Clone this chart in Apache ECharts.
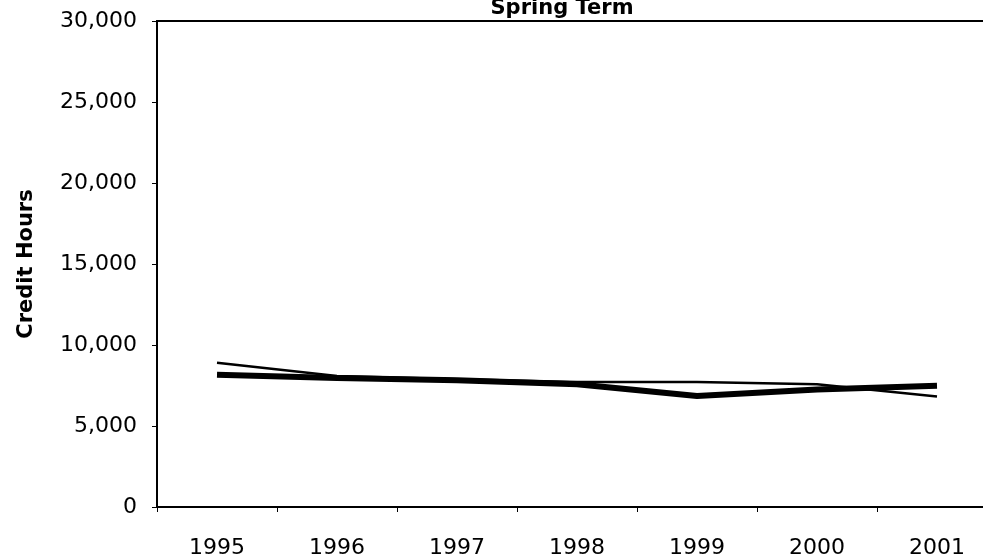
<!DOCTYPE html>
<html>
<head>
<meta charset="utf-8">
<script src="https://cdn.jsdelivr.net/npm/echarts@6/dist/echarts.min.js"></script>
<style>
  html, body { margin: 0; padding: 0; background: #fff; }
  #chart { width: 983px; height: 560px; }
</style>
</head>
<body>
<div id="chart"></div>
<script>
// values
const years = ['1995', '1996', '1997', '1998', '1999', '2000', '2001']
const creditHours = [8170, 7960, 7820, 7580, 6850, 7250, 7480]
const trendHours = [8900, 8080, 7880, 7720, 7720, 7580, 6820]
const yTicks = [0, 5000, 10000, 15000, 20000, 25000, 30000]

const font = 'DejaVu Sans'

const chart = echarts.init(document.getElementById('chart'))
chart.setOption({
  animation: false,
  backgroundColor: '#fff',
  title: {
    text: 'Spring Term',
    left: 557,
    top: -7,
    textAlign: 'center',
    textStyle: {
      fontFamily: font,
      fontWeight: 'bold',
      fontSize: 21,
      color: '#000',
    },
  },
  grid: {
    left: 157,
    top: 21,
    height: 486,
    width: 840,
    containLabel: false,
    outerBoundsMode: 'none',
    show: true,
    borderColor: '#000',
    borderWidth: 2,
  },
  xAxis: {
    type: 'category',
    data: years,
    boundaryGap: true,
    axisLine: { lineStyle: { color: '#000', width: 2 } },
    axisTick: { show: true, length: 5, lineStyle: { color: '#000' } },
    axisLabel: {
      color: '#000',
      fontFamily: font,
      fontSize: 22,
      margin: 30,
    },
  },
  yAxis: {
    type: 'value',
    min: yTicks[0],
    max: yTicks[yTicks.length - 1],
    interval: 5000,
    name: 'Credit Hours',
    nameLocation: 'middle',
    nameGap: 120,
    nameTextStyle: {
      color: '#000',
      fontFamily: font,
      fontWeight: 'bold',
      fontSize: 21,
    },
    splitLine: { show: false },
    axisLine: { show: true, lineStyle: { color: '#000', width: 2 } },
    axisTick: { show: true, length: 5, lineStyle: { color: '#000' } },
    axisLabel: {
      color: '#000',
      fontFamily: font,
      fontSize: 22,
      margin: 20,
      formatter: v => v.toLocaleString('en-US'),
    },
  },
  series: [
    {
      name: 'Credit Hours',
      type: 'line',
      data: creditHours,
      symbol: 'none',
      lineStyle: { color: '#000', width: 6 },
    },
    {
      name: 'Trend',
      type: 'line',
      data: trendHours,
      symbol: 'none',
      lineStyle: { color: '#000', width: 2.5 },
    },
  ],
})
</script>
</body>
</html>
